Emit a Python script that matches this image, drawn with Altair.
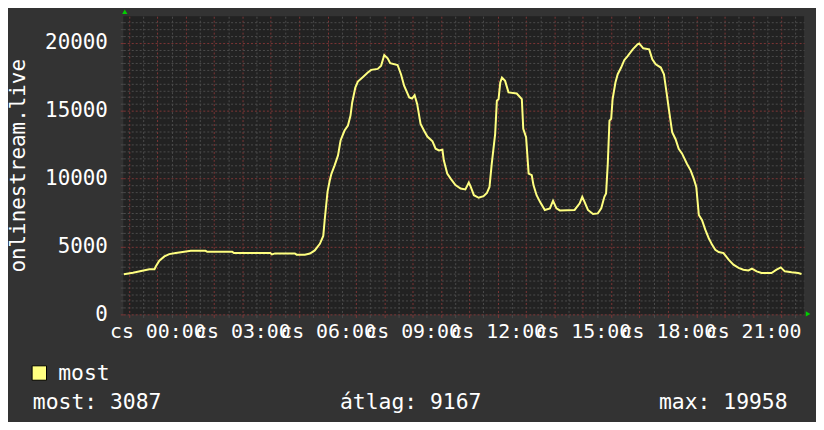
import altair as alt
import pandas as pd

# ---- data (hours from midnight, online users) ----
hours = [-1.18, -0.86, -0.57, -0.28, -0.10, -0.05, 0.07, 0.25, 0.42, 0.65, 0.89, 1.18,
         1.70, 1.76, 2.64, 2.70, 3.98, 4.04, 4.15, 4.85, 4.91, 5.20, 5.38, 5.55, 5.73,
         5.85, 5.90, 6.00, 6.08, 6.14, 6.25, 6.37, 6.46, 6.60, 6.72, 6.81, 6.87, 6.98,
         7.07, 7.25, 7.42, 7.54, 7.77, 7.89, 8.00, 8.12, 8.21, 8.47, 8.59, 8.70, 8.88,
         8.98, 9.07, 9.16, 9.28, 9.40, 9.52, 9.70, 9.81, 9.93, 10.05, 10.10, 10.22,
         10.34, 10.51, 10.69, 10.86, 10.98, 11.04, 11.16, 11.33, 11.50, 11.62, 11.71,
         11.79, 11.91, 11.97, 12.03, 12.09, 12.15, 12.26, 12.38, 12.67, 12.85, 12.90,
         13.00, 13.09, 13.20, 13.26, 13.37, 13.49, 13.66, 13.84, 13.95, 14.07, 14.19,
         14.71, 14.89, 14.98, 15.06, 15.18, 15.36, 15.53, 15.65, 15.76, 15.82, 15.88,
         15.94, 16.00, 16.05, 16.15, 16.23, 16.35, 16.46, 16.58, 16.76, 16.93, 16.99,
         17.13, 17.34, 17.45, 17.57, 17.75, 17.86, 17.96, 18.04, 18.15, 18.27, 18.38,
         18.50, 18.67, 18.80, 18.91, 19.00, 19.09, 19.20, 19.32, 19.44, 19.56, 19.67,
         19.79, 19.96, 20.14, 20.31, 20.49, 20.66, 20.84, 20.96, 21.13, 21.30, 21.65,
         21.83, 21.98, 22.12, 22.36, 22.59, 22.71]
users = [2950, 3070, 3200, 3320, 3330, 3540, 3950, 4270, 4440, 4515, 4590, 4685,
         4685, 4610, 4610, 4515, 4515, 4415, 4490, 4490, 4400, 4400, 4480, 4710, 5200,
         5780, 6950, 9030, 9880, 10370, 10980, 11710, 12810, 13540, 13910, 14640, 15610, 16710,
         17150, 17490, 17810, 18010, 18080, 18320, 19105, 18860, 18500, 18370, 17690, 16840, 15980,
         15900, 16150, 15500, 14030, 13540, 13100, 12750, 12200, 12080, 12130, 11350, 10370,
         10000, 9520, 9270, 9200, 9710, 9440, 8780, 8590, 8710, 8950, 9390,
         11100, 13300, 15740, 15860, 17080, 17440, 17200, 16350, 16270, 15860, 13660,
         13050, 10370, 10250, 9520, 8780, 8290, 7690, 7810, 8370, 7810, 7660,
         7690, 8180, 8660, 8290, 7690, 7390, 7440, 7810, 8660, 8910, 11100,
         14270, 14400, 15860, 17080, 17690, 18180, 18720, 19030, 19520, 19890, 19958,
         19600, 19520, 18790, 18420, 18180, 17690, 16230, 15010, 13420, 12900, 12200,
         11840, 11100, 10610, 10000, 9390, 7320, 6950, 6220, 5610, 5120, 4760,
         4590, 4515, 4030, 3660, 3420, 3290, 3240, 3370, 3170, 3050, 3050,
         3290, 3460, 3170, 3100, 3050, 2980]

series_name = "most"
y_title = "onlinestream.live"
stat_names = ["most", "átlag", "max"]
stat_values = [3087, 9167, 19958]
day_prefix = "cs"
x_ticks = [i * 0.5 for i in range(-2, 46)]      # every half hour
y_ticks = list(range(0, 22000, 500))            # every 500

# ---- style ----
FONT = "DejaVu Sans Mono"
W, H = 685, 300
X_DOMAIN = [-1.2, 22.8]
Y_DOMAIN = [0, 21960]
LINE = "#FFFF80"
RED = "#7e3535"
GRAY = "#4c4c4c"

df = pd.DataFrame({"t": hours, "v": users})
xs = alt.Scale(domain=X_DOMAIN, nice=False, zero=False)
ys = alt.Scale(domain=Y_DOMAIN, nice=False, zero=False)

xgrid = {"condition": {"test": "datum.value % 1 === 0", "value": RED}, "value": GRAY}
ygrid = {"condition": {"test": "datum.value % 5000 === 0", "value": RED}, "value": GRAY}

x_axis = alt.Axis(
    values=x_ticks, tickCount=200,
    labelExpr=("(datum.value >= 0 && datum.value % 3 === 0) ? '" + day_prefix +
               " ' + (datum.value < 10 ? '0' : '') + datum.value + ':00' : ''"),
    labelOverlap=False, labelFlush=False, labelFont=FONT, labelFontSize=20,
    labelColor="#ffffff", labelPadding=4, tickSize=3, tickColor=xgrid,
    gridColor=xgrid, gridDash=[2, 2], gridOpacity=1, domain=False, title=None,
)
y_axis = alt.Axis(
    values=y_ticks, tickCount=200, format="d",
    labelExpr="datum.value % 5000 === 0 ? datum.label : ''",
    labelOverlap=False, labelFont=FONT, labelFontSize=21, labelColor="#ffffff",
    labelPadding=13, tickSize=3, tickColor=ygrid,
    gridColor=ygrid, gridDash=[2, 2], gridOpacity=1, domain=False,
    title=y_title, titleFont=FONT, titleFontSize=21, titleFontWeight="normal",
    titleColor="#ffffff", titleX=-99, titleY=H / 2, titleAngle=270,
    titleAlign="center", titleBaseline="alphabetic",
)

line = alt.Chart(df).mark_line(color=LINE, strokeWidth=2).encode(
    x=alt.X("t:Q", scale=xs, axis=x_axis),
    y=alt.Y("v:Q", scale=ys, axis=y_axis),
)

one = alt.Data(values=[{"k": 1}])
arrow_up = alt.Chart(one).mark_point(
    shape="triangle-up", filled=True, color="#00d000", size=28, opacity=1, xOffset=1.5, yOffset=-4.5
).encode(x=alt.datum(X_DOMAIN[0]), y=alt.datum(Y_DOMAIN[1]))
arrow_right = alt.Chart(one).mark_point(
    shape="triangle-right", filled=True, color="#00d000", size=28, opacity=1, xOffset=4, yOffset=-0.5
).encode(x=alt.datum(X_DOMAIN[1]), y=alt.datum(Y_DOMAIN[0]))

legend_box = alt.Chart(one).mark_square(
    size=210, fill=LINE, stroke="#000000", strokeWidth=1, opacity=1
).encode(x=alt.value(-84.5), y=alt.value(359))
legend_text = alt.Chart(alt.Data(values=[{"name": series_name}])).mark_text(
    align="left", baseline="alphabetic", font=FONT, fontSize=21.5, color="#ffffff"
).encode(x=alt.value(-65.5), y=alt.value(366), text="name:N")

stat_x = [-91, 218, 539]
stat_layers = []
for name, val, px in zip(stat_names, stat_values, stat_x):
    stat_layers.append(
        alt.Chart(alt.Data(values=[{"s": f"{name}: {val}"}])).mark_text(
            align="left", baseline="alphabetic", font=FONT, fontSize=21.5, color="#ffffff"
        ).encode(x=alt.value(px), y=alt.value(395), text="s:N")
    )

chart = alt.layer(line, arrow_up, arrow_right, legend_box, legend_text, *stat_layers).properties(
    width=W, height=H,
    autosize=alt.AutoSizeParams(type="none"),
    padding={"left": 116, "top": 7, "right": 12, "bottom": 107},
    background="#333333",
).configure_view(fill="#222222", stroke=None)

chart.save("out.html", embed_options={"renderer": "svg", "actions": False})
